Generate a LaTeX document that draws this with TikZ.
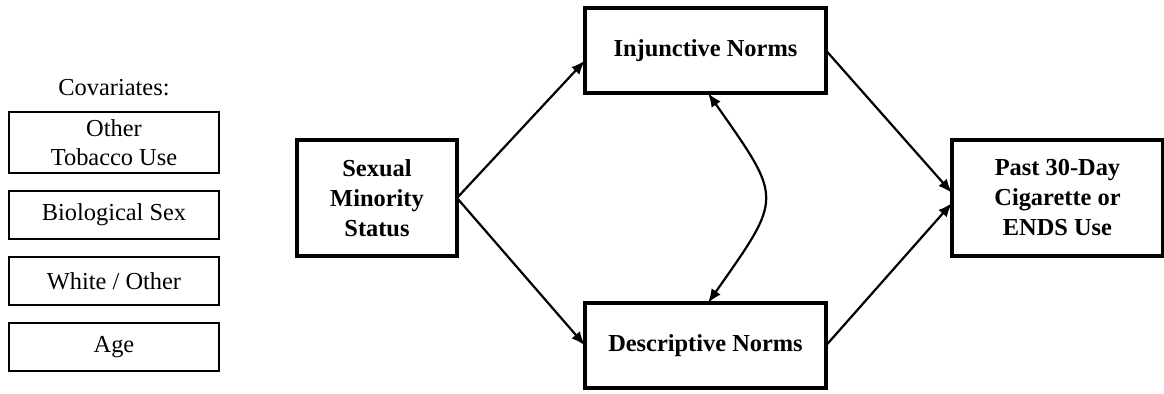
\documentclass[tikz,border=0pt]{standalone}
\usepackage{fontspec}
\setmainfont{Liberation Serif}
\usetikzlibrary{positioning, arrows.meta}

\begin{document}
\begin{tikzpicture}[x=1pt,y=1pt,
        font=\fontsize{12.2}{14.5}\selectfont,
        covbox/.style={draw, line width=1.2pt, outer sep=0pt, inner sep=0pt,
            minimum width=105pt, minimum height=24pt, align=center},
        varbox/.style={draw, line width=1.9pt, outer sep=0pt, inner sep=0pt,
            align=center, font=\fontsize{12.2}{15}\selectfont\bfseries},
        link/.style={line width=1.1pt, -{Latex[length=7pt,width=5.5pt]}},
        twoway/.style={line width=1.1pt, {Latex[length=7pt,width=5.5pt]}-{Latex[length=7pt,width=5.5pt]}}]
        \useasboundingbox (0,0) rectangle (582,-197);

        % covariates
        \node[covbox, minimum height=30.5pt] (tobacco) at (57,-71.25) {Other\\Tobacco Use};
        \node[covbox] (biosex) [below=9pt of tobacco] {Biological Sex};
        \node[covbox] (race) [below=9pt of biosex] {White / Other};
        \node[covbox] (age) [below=9pt of race] {Age};
        \node[inner sep=0pt] (covlabel) [above=8pt of tobacco] {Covariates:};

        % model
        \node[varbox, minimum width=80pt, minimum height=58pt] (smin) at (188.5,-99) {Sexual\\Minority\\Status};
        \node[varbox, minimum width=120.5pt, minimum height=42.5pt] (inj) [above right=23.5pt and 64pt of smin] {Injunctive Norms};
        \node[varbox, minimum width=120.5pt, minimum height=42.5pt] (desc) [below right=23.5pt and 64pt of smin] {Descriptive Norms};
        \node[varbox, minimum width=105.5pt, minimum height=58pt] (use) [right=247.5pt of smin] {Past 30-Day\\Cigarette or\\ENDS Use};

        \path[link]
        (smin.east) edge ([yshift=-5pt]inj.west)
        (smin.east) edge (desc.west)
        (inj.east) edge ([yshift=2.5pt]use.west)
        (desc.east) edge ([yshift=-2.5pt]use.west)
        ;
        \draw[twoway] ([xshift=1.25pt]inj.south) to[out=-55, in=55, looseness=1.6] ([xshift=1.25pt]desc.north);

    \end{tikzpicture}
\end{document}
